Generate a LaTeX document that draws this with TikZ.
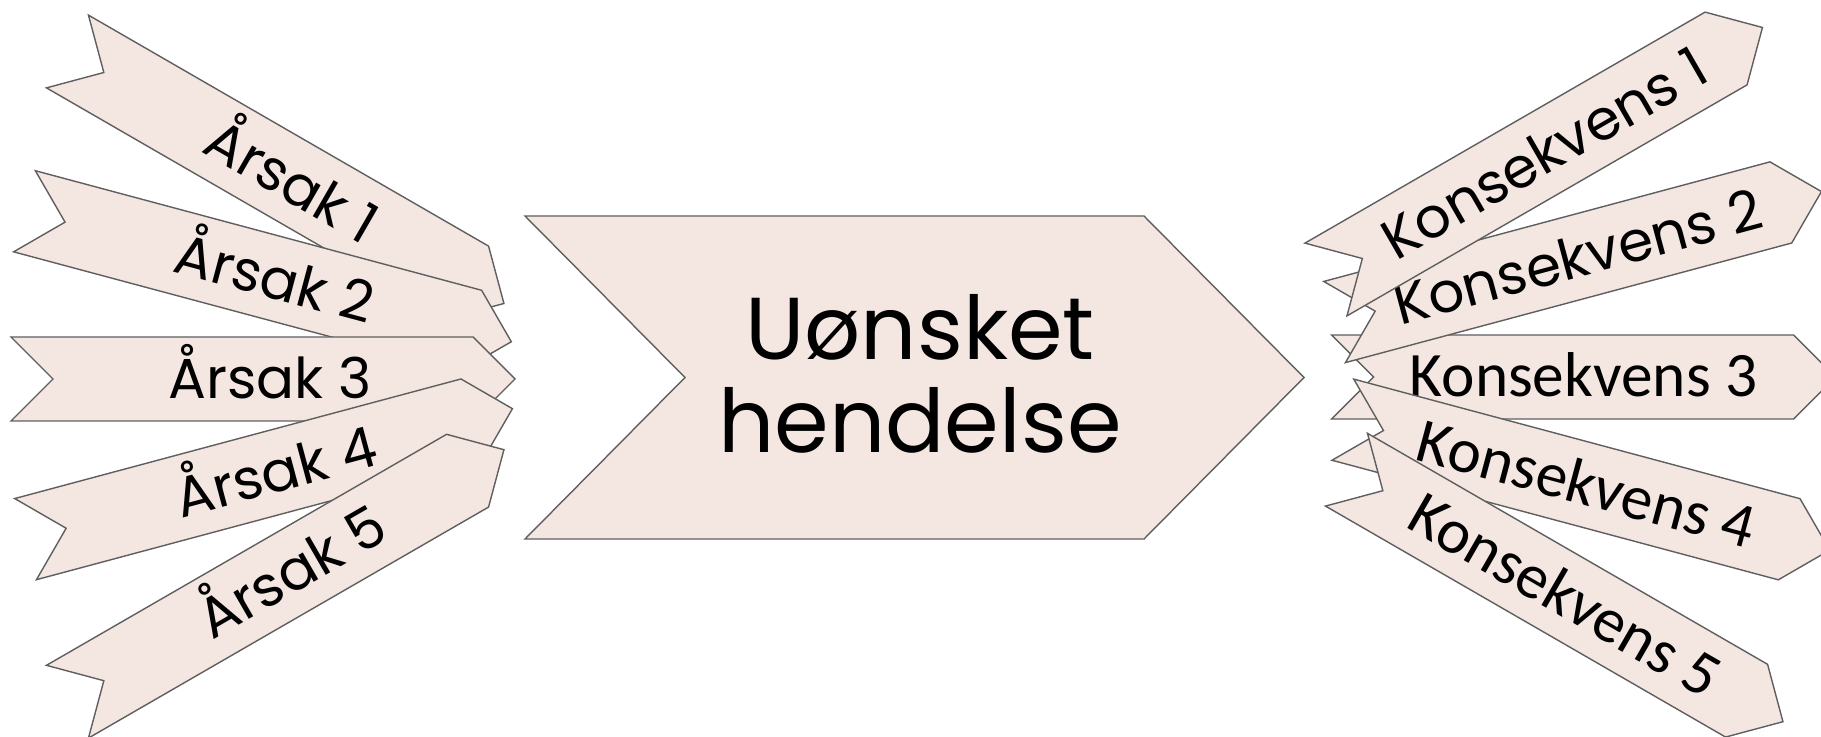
\documentclass[tikz,border=0pt]{standalone}
\usepackage{fontspec}
\setmainfont{Poppins}
\newfontfamily\carlito{Carlito}
\definecolor{bandfill}{RGB}{244,231,226}
\definecolor{bandline}{RGB}{95,95,95}

\begin{document}
\begin{tikzpicture}[x=0.01cm,y=-0.01cm,
    band/.style={fill=bandfill,draw=bandline,line width=0.4pt},
    causetext/.style={font=\fontsize{16}{18}\selectfont,inner sep=0pt,anchor=base},
    konsA/.style={font=\fontsize{16}{19}\selectfont,inner sep=0pt,anchor=base},
    konsB/.style={font=\carlito\fontsize{18}{21}\selectfont,inner sep=0pt,anchor=base},
    eventtext/.style={font=\fontsize{25}{26.5}\selectfont,align=center,inner sep=0pt}]

        \useasboundingbox (0,0) rectangle (1821,737);

        % Causes, each one laid over the one above it
        \foreach \n/\cx/\cy/\ang in {1/285.7/177.5/-30, 2/267.9/276.5/-15,
                3/263/379/0, 4/269/473.9/15, 5/285.7/575.7/30} {
            \begin{scope}[shift={(\cx,\cy)},rotate=\ang]
                \draw[band] (-252,-42) -- (210,-42) -- (252,0) -- (210,42)
                    -- (-252,42) -- (-210,0) -- cycle;
                \node[causetext,rotate=\ang] (cause\n) at (7,20) {Årsak \n};
            \end{scope}
        }

        % Unwanted event
        \draw[band] (525,216) -- (1144,216) -- (1304,377.5) -- (1144,539)
            -- (525,539) -- (685,377.5) -- cycle;
        \node[eventtext] (event) at (920,374) {Uønsket\\hendelse};

        % Consequences (middle one at the back)
        \foreach \n/\cx/\cy/\ang/\fnt in {3/1583.5/377/0/konsB, 2/1578/256.8/15/konsA,
                4/1586.3/484.9/-15/konsB, 1/1544.2/153.5/30/konsA,
                5/1564.7/595.7/-30/konsB} {
            \begin{scope}[shift={(\cx,\cy)},rotate=\ang]
                \draw[band] (-252,-42) -- (210,-42) -- (252,0) -- (210,42)
                    -- (-252,42) -- (-210,0) -- cycle;
                \node[\fnt,rotate=\ang] (cons\n) at (0,20) {Konsekvens \n};
            \end{scope}
        }

    \end{tikzpicture}
\end{document}
